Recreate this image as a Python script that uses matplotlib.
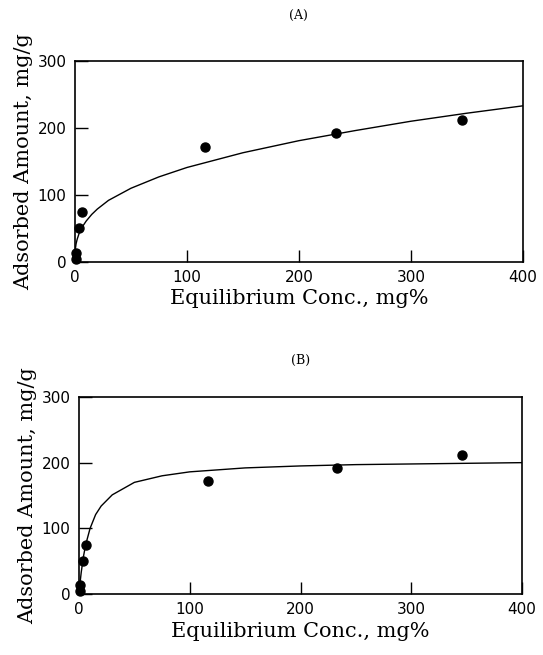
import matplotlib
matplotlib.use("Agg")
import matplotlib.pyplot as plt

# measured adsorption points (same data in both panels)
conc = [1, 1, 4, 6, 116, 233, 346]
adsorbed = [4, 14, 50, 74, 172, 192, 212]

# fitted curve (A)
curve_a_x = [0, 0.5, 1, 2, 4, 6, 10, 15, 20, 30, 50, 75, 100, 150, 200, 250, 300, 350, 400]
curve_a_y = [0, 21, 27, 34, 44, 51, 61, 71, 79, 92, 110, 127, 141, 163, 181, 196, 210, 222, 233]

# fitted curve (B)
curve_b_x = [0, 1, 2, 4, 6, 10, 15, 20, 30, 50, 75, 100, 150, 200, 250, 300, 350, 400]
curve_b_y = [0, 18, 33, 57, 75, 100, 121, 134, 151, 170, 180, 186, 192, 195, 197, 198, 199, 200]

ticks = [0, 100, 200, 300, 400]
yticks = [0, 100, 200, 300]

serif = "DejaVu Serif"


def draw_panel(ax, cx, cy, title, title_pad):
    ax.plot(cx, cy, color="black", lw=1.0)
    ax.plot(conc, adsorbed, "o", color="black", ms=6.5, clip_on=False, zorder=3)
    ax.set_xlim(0, 400)
    ax.set_ylim(0, 300)
    ax.set_xticks(ticks)
    ax.set_yticks(yticks)
    ax.tick_params(direction="in", length=9, width=1, labelsize=11, pad=6)
    for s in ax.spines.values():
        s.set_linewidth(1.2)
    ax.set_xlabel("Equilibrium Conc., mg%", family=serif, fontsize=15, labelpad=3)
    ax.set_ylabel("Adsorbed Amount, mg/g", family=serif, fontsize=15, labelpad=3)
    ax.set_title(title, family=serif, fontsize=9, pad=title_pad)


fig = plt.figure(figsize=(5.43, 6.55), dpi=100)
ax1 = fig.add_axes([0.138, 0.600, 0.825, 0.307])
ax2 = fig.add_axes([0.1455, 0.093, 0.816, 0.301])

draw_panel(ax1, curve_a_x, curve_a_y, "(A)", 30)
draw_panel(ax2, curve_b_x, curve_b_y, "(B)", 24)

fig.savefig("out.png", dpi=100)
